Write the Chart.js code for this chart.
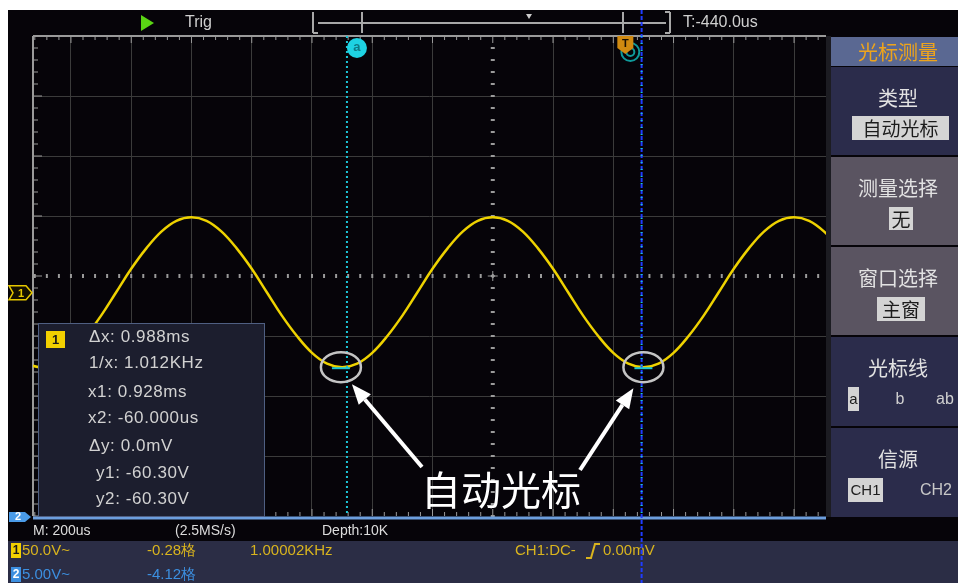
<!DOCTYPE html>
<html>
<head>
<meta charset="utf-8">
<script src="https://cdn.jsdelivr.net/npm/chart.js@4.4.1/dist/chart.umd.min.js"></script>
<style>
html, body { margin: 0; padding: 0; background: #fff; overflow: hidden; }
canvas { display: block; }
</style>
</head>
<body>
<canvas id="scope" width="958" height="583"></canvas>
<script>
// time in divisions (200us/div), trigger at 0
const timeDiv = [-7.75, -7.5, -7.25, -7, -6.75, -6.5, -6.25, -6, -5.75, -5.5, -5.25, -5,
    -4.75, -4.5, -4.25, -4, -3.75, -3.5, -3.25, -3, -2.75, -2.5, -2.25, -2, -1.75, -1.5,
    -1.25, -1, -0.75, -0.5, -0.25, 0, 0.25, 0.5, 0.75, 1, 1.25, 1.5, 1.75, 2, 2.25, 2.5,
    2.75, 3, 3.25, 3.5, 3.75, 4, 4.25, 4.5, 4.75, 5, 5.25, 5.5, 5.75];
// CH1 in divisions (50V/div)
const ch1Div = [-1.46, -1.52, -1.46, -1.28, -1.0, -0.66, -0.27, 0.12, 0.46, 0.74, 0.92, 0.98,
    0.92, 0.74, 0.46, 0.12, -0.27, -0.66, -1.0, -1.28, -1.46, -1.52, -1.46, -1.28, -1.0, -0.66,
    -0.27, 0.12, 0.46, 0.74, 0.92, 0.98, 0.92, 0.74, 0.46, 0.12, -0.27, -0.66, -1.0, -1.28, -1.46, -1.52,
    -1.46, -1.28, -1.0, -0.66, -0.27, 0.12, 0.46, 0.74, 0.92, 0.98, 0.92, 0.74, 0.46];

const gridX = [-7, -6, -5, -4, -3, -2, -1, 1, 2, 3, 4, 5];
const gridY = [-3, -2, -1, 1, 2, 3];
const xRange = [-7.63, 5.53];
const yRange = [-4, 4];

const cursorA = -2.42;
const cursorB = 2.47;
const cursorLevel = -1.52;
const troughs = [-2.52, 2.5];
const triggerPos = 2.2;
const ch1Offset = -0.28;

const readout = ['Δx: 0.988ms', '1/x: 1.012KHz', 'x1: 0.928ms', 'x2: -60.000us', 'Δy: 0.0mV', 'y1: -60.30V', 'y2: -60.30V'];
const menuTitle = '光标测量';
const menuHeads = ['类型', '测量选择', '窗口选择', '光标线', '信源'];
const callout = '自动光标';

const SANS = '"Liberation Sans", Arial, sans-serif';
const CJK = '"Noto Sans CJK SC", sans-serif';

function text(ctx, s, x, y, font, color, align) {
    ctx.font = font;
    ctx.fillStyle = color;
    ctx.textAlign = align || 'left';
    ctx.textBaseline = 'middle';
    ctx.fillText(s, x, y);
}

function line(ctx, x0, y0, x1, y1, color, w) {
    ctx.strokeStyle = color;
    ctx.lineWidth = w;
    ctx.beginPath();
    ctx.moveTo(x0, y0);
    ctx.lineTo(x1, y1);
    ctx.stroke();
}

function arrow(ctx, x0, y0, x1, y1) {
    const a = Math.atan2(y1 - y0, x1 - x0);
    const hl = 20, hw = 8;
    const bx = x1 - hl * Math.cos(a), by = y1 - hl * Math.sin(a);
    line(ctx, x0, y0, bx, by, '#ffffff', 4);
    ctx.fillStyle = '#ffffff';
    ctx.beginPath();
    ctx.moveTo(x1, y1);
    ctx.lineTo(bx + hw * Math.sin(a), by - hw * Math.cos(a));
    ctx.lineTo(bx - hw * Math.sin(a), by + hw * Math.cos(a));
    ctx.closePath();
    ctx.fill();
}

function box(ctx, x0, y0, x1, y1, s, font) {
    ctx.fillStyle = '#d4d4d4';
    ctx.fillRect(x0, y0, x1 - x0, y1 - y0);
    text(ctx, s, (x0 + x1) / 2, (y0 + y1) / 2 + 1, font, '#1c1c1c', 'center');
}

const scopePlugin = {
    id: 'scope',
    beforeDraw(chart) {
        const ctx = chart.ctx;
        ctx.save();
        ctx.fillStyle = '#ffffff';
        ctx.fillRect(0, 0, 958, 583);
        ctx.fillStyle = '#060409';
        ctx.fillRect(8, 10, 950, 573);
        ctx.fillStyle = '#2b2d45';
        ctx.fillRect(8, 541, 950, 42);

        // top bar
        ctx.fillStyle = '#5ad414';
        ctx.beginPath();
        ctx.moveTo(141, 15); ctx.lineTo(141, 31); ctx.lineTo(154, 23); ctx.closePath();
        ctx.fill();
        text(ctx, 'Trig', 185, 23, '16px ' + SANS, '#cfcfcf');
        const g = '#a8a8a8';
        line(ctx, 313, 12, 313, 33, g, 2);
        line(ctx, 313, 33, 318, 33, g, 2);
        line(ctx, 318, 23, 666, 23, g, 2);
        line(ctx, 362, 12, 362, 33, g, 2);
        line(ctx, 623, 12, 623, 33, g, 2);
        line(ctx, 670, 12, 670, 33, g, 2);
        line(ctx, 665, 12, 670, 12, g, 2);
        line(ctx, 665, 33, 670, 33, g, 2);
        ctx.fillStyle = '#cccccc';
        ctx.beginPath();
        ctx.moveTo(526, 14); ctx.lineTo(532, 14); ctx.lineTo(529, 19); ctx.closePath();
        ctx.fill();
        text(ctx, 'T:-440.0us', 683, 23, '16px ' + SANS, '#cfcfcf');

        // right menu
        ctx.fillStyle = '#1c1c22';
        ctx.fillRect(826, 36, 5, 481);
        ctx.fillStyle = '#5a6892';
        ctx.fillRect(831, 37, 127, 29);
        text(ctx, menuTitle, 898, 52, '20px ' + CJK, '#eea41c', 'center');
        const secs = [[67, 155, '#2b2c4b'], [157, 245, '#5a5461'], [247, 335, '#5a5461'], [337, 426, '#2b2c4b'], [428, 517, '#2b2c4b']];
        secs.forEach((s, i) => {
            ctx.fillStyle = s[2];
            ctx.fillRect(831, s[0], 127, s[1] - s[0]);
            text(ctx, menuHeads[i], 898, s[0] + 31, '20px ' + CJK, '#e2e2e2', 'center');
        });
        box(ctx, 852, 116, 949, 140, '自动光标', '19px ' + CJK);
        box(ctx, 889, 207, 913, 230, '无', '19px ' + CJK);
        box(ctx, 877, 297, 925, 321, '主窗', '19px ' + CJK);
        box(ctx, 848, 387, 859, 411, 'a', '15px ' + SANS);
        text(ctx, 'b', 900, 400, '16px ' + SANS, '#d0d0d0', 'center');
        text(ctx, 'ab', 945, 400, '16px ' + SANS, '#d0d0d0', 'center');
        box(ctx, 848, 478, 883, 502, 'CH1', '15px ' + SANS);
        text(ctx, 'CH2', 936, 491, '16px ' + SANS, '#c8c8c8', 'center');

        // status rows
        const st = '14px ' + SANS;
        text(ctx, 'M: 200us', 33, 531, st, '#dcdcdc');
        text(ctx, '(2.5MS/s)', 175, 531, st, '#dcdcdc');
        text(ctx, 'Depth:10K', 322, 531, st, '#dcdcdc');
        const yel = '#d9b41e', blu = '#3c8fe0';
        ctx.fillStyle = '#f2d000';
        ctx.fillRect(11, 543, 10, 15);
        text(ctx, '1', 16, 551, 'bold 12px ' + SANS, '#1a1a1a', 'center');
        text(ctx, '50.0V~', 22, 551, '15px ' + SANS, yel);
        text(ctx, '-0.28格', 147, 551, '15px ' + SANS, yel);
        text(ctx, '1.00002KHz', 250, 551, '15px ' + SANS, yel);
        text(ctx, 'CH1:DC-', 515, 551, '15px ' + SANS, yel);
        ctx.strokeStyle = yel;
        ctx.lineWidth = 2;
        ctx.beginPath();
        ctx.moveTo(586, 558); ctx.lineTo(591, 558); ctx.lineTo(595, 544); ctx.lineTo(600, 544);
        ctx.stroke();
        text(ctx, '0.00mV', 603, 551, '15px ' + SANS, yel);
        ctx.fillStyle = '#3c8fe0';
        ctx.fillRect(11, 567, 10, 15);
        text(ctx, '2', 16, 575, 'bold 12px ' + SANS, '#ffffff', 'center');
        text(ctx, '5.00V~', 22, 575, '15px ' + SANS, blu);
        text(ctx, '-4.12格', 147, 575, '15px ' + SANS, blu);
        ctx.restore();
    },
    beforeDatasetsDraw(chart) {
        const ctx = chart.ctx;
        const xs = chart.scales.x, ys = chart.scales.y;
        const a = chart.chartArea;
        const g = '#9a9a9a';
        ctx.save();
        // borders
        line(ctx, a.left, a.top, a.right, a.top, g, 2);
        line(ctx, a.left, a.top, a.left, a.bottom, g, 2);
        const cx = xs.getPixelForValue(0), cy = ys.getPixelForValue(0);
        // ticks along edges and centre axes
        for (let k = Math.ceil(xRange[0] / 0.2); k * 0.2 <= xRange[1]; k++) {
            const px = xs.getPixelForValue(k * 0.2);
            const major = k % 5 === 0;
            line(ctx, px, a.top, px, a.top + (major ? 7 : 4), g, 1);
            line(ctx, px, a.bottom, px, a.bottom - (major ? 7 : 4), g, 1);
            line(ctx, px, cy - 2, px, cy + 2, g, 2);
        }
        for (let k = -20; k <= 20; k++) {
            const py = ys.getPixelForValue(k * 0.2);
            const major = k % 5 === 0;
            line(ctx, a.left, py, a.left + (major ? 9 : 5), py, g, 1);
            line(ctx, cx - 2, py, cx + 2, py, g, 2);
        }
        line(ctx, cx - 5, cy, cx + 5, cy, g, 1);
        line(ctx, cx, cy - 5, cx, cy + 5, g, 1);
        ctx.restore();
    },
    afterDatasetsDraw(chart) {
        const ctx = chart.ctx;
        const xs = chart.scales.x, ys = chart.scales.y;
        const a = chart.chartArea;
        ctx.save();
        // bottom border
        line(ctx, 33, 518, a.right, 518, '#6c9ede', 3);
        // CH2 marker
        ctx.fillStyle = '#4a9be8';
        ctx.beginPath();
        ctx.moveTo(9, 512); ctx.lineTo(25, 512); ctx.lineTo(31, 517); ctx.lineTo(25, 522); ctx.lineTo(9, 522);
        ctx.closePath();
        ctx.fill();
        text(ctx, '2', 18, 517, 'bold 11px ' + SANS, '#ffffff', 'center');
        // CH1 marker
        const my = ys.getPixelForValue(ch1Offset);
        ctx.fillStyle = '#141000';
        ctx.strokeStyle = '#e6c800';
        ctx.lineWidth = 1.5;
        ctx.beginPath();
        ctx.moveTo(9, my - 7); ctx.lineTo(26, my - 7); ctx.lineTo(32, my); ctx.lineTo(26, my + 7); ctx.lineTo(9, my + 7);
        ctx.lineTo(13, my);
        ctx.closePath();
        ctx.fill();
        ctx.stroke();
        text(ctx, '1', 21, my + 1, 'bold 11px ' + SANS, '#e6c800', 'center');

        // cursor a
        const pa = xs.getPixelForValue(cursorA);
        ctx.setLineDash([2, 3]);
        line(ctx, pa, a.top, pa, a.bottom, '#1cc6d6', 2);
        // cursor b
        const pb = xs.getPixelForValue(cursorB);
        ctx.setLineDash([4, 2]);
        line(ctx, pb, 10, pb, 583, '#1f3cff', 2);
        ctx.setLineDash([1, 6]);
        line(ctx, pb, a.top, pb, a.bottom, '#1cc6d6', 2);
        ctx.setLineDash([]);
        // cursor a label
        ctx.fillStyle = '#1ed2e2';
        ctx.beginPath();
        ctx.arc(pa + 10, 48, 10, 0, Math.PI * 2);
        ctx.fill();
        text(ctx, 'a', pa + 10, 47, 'bold 13px ' + SANS, '#0e7a86', 'center');
        // trigger marker
        const pt = xs.getPixelForValue(triggerPos);
        ctx.strokeStyle = '#0f9a9a';
        ctx.lineWidth = 2;
        ctx.beginPath(); ctx.arc(pt + 5, 52, 9, 0, Math.PI * 2); ctx.stroke();
        ctx.beginPath(); ctx.arc(pt + 5, 52, 4, 0, Math.PI * 2); ctx.stroke();
        ctx.fillStyle = '#d08a10';
        ctx.beginPath();
        ctx.moveTo(pt - 8, 36); ctx.lineTo(pt + 8, 36); ctx.lineTo(pt + 8, 48); ctx.lineTo(pt, 54); ctx.lineTo(pt - 8, 48);
        ctx.closePath();
        ctx.fill();
        text(ctx, 'T', pt, 44, 'bold 11px ' + SANS, '#1a1000', 'center');

        // trough marks
        const ly = ys.getPixelForValue(cursorLevel);
        troughs.forEach(t => {
            const px = xs.getPixelForValue(t);
            line(ctx, px - 9, ly + 1, px + 9, ly + 1, '#1cc6d6', 2);
            ctx.strokeStyle = '#c4c4c4';
            ctx.lineWidth = 2.5;
            ctx.beginPath();
            ctx.ellipse(px, ly, 20, 15, 0, 0, Math.PI * 2);
            ctx.stroke();
        });
        // call-out
        arrow(ctx, 422, 467, xs.getPixelForValue(troughs[0]) + 11, ly + 17);
        arrow(ctx, 580, 470, xs.getPixelForValue(troughs[1]) - 10, ly + 21);
        text(ctx, callout, 501, 490, '40px ' + CJK, '#ffffff', 'center');

        // readout box
        ctx.fillStyle = '#1c1e2e';
        ctx.fillRect(38, 323, 227, 194);
        ctx.strokeStyle = '#4f5f82';
        ctx.lineWidth = 1;
        ctx.strokeRect(38.5, 323.5, 226, 193);
        ctx.fillStyle = '#f2d000';
        ctx.fillRect(46, 331, 19, 17);
        text(ctx, '1', 55.5, 340, 'bold 13px ' + SANS, '#1a1a1a', 'center');
        const rows = [[89, 337], [89, 363], [88, 392], [88, 418], [89, 446], [96, 473], [96, 499]];
        ctx.letterSpacing = '0.6px';
        readout.forEach((s, i) => text(ctx, s, rows[i][0], rows[i][1], '17px ' + SANS, '#d2d2d2'));
        ctx.letterSpacing = '0px';
        ctx.restore();
    }
};

const ctx = document.getElementById('scope').getContext('2d');

new Chart(ctx, {
    type: 'line',
    data: {
        datasets: [{
            label: 'CH1',
            data: timeDiv.map((t, i) => ({ x: t, y: ch1Div[i] })),
            borderColor: '#eed200',
            borderWidth: 2.5,
            pointRadius: 0,
            tension: 0.4,
            fill: false
        }]
    },
    options: {
        responsive: false,
        animation: false,
        devicePixelRatio: 1,
        layout: {
            autoPadding: false,
            padding: { left: 33, top: 36, right: 132, bottom: 67 }
        },
        scales: {
            x: {
                type: 'linear',
                min: xRange[0],
                max: xRange[1],
                afterBuildTicks: axis => { axis.ticks = gridX.map(v => ({ value: v })); },
                ticks: { display: false },
                grid: { color: '#3b3b3b', lineWidth: 1, drawTicks: false },
                border: { display: false }
            },
            y: {
                min: yRange[0],
                max: yRange[1],
                afterBuildTicks: axis => { axis.ticks = gridY.map(v => ({ value: v })); },
                ticks: { display: false },
                grid: { color: '#3b3b3b', lineWidth: 1, drawTicks: false },
                border: { display: false }
            }
        },
        plugins: {
            legend: { display: false },
            tooltip: { enabled: false }
        }
    },
    plugins: [scopePlugin]
});
</script>
</body>
</html>
